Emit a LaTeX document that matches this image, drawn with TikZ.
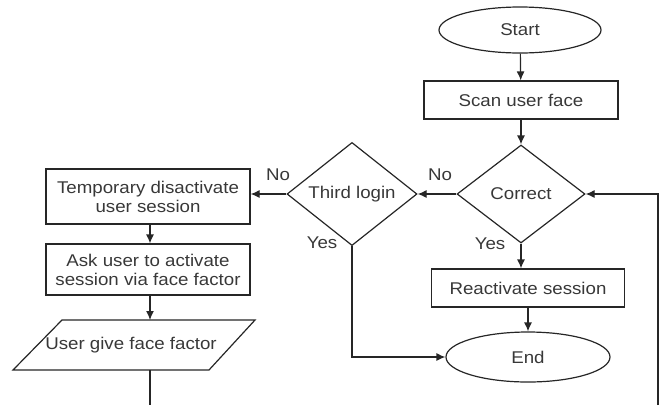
\documentclass[tikz,border=0pt]{standalone}
\usepackage{fontspec}
\setmainfont[FakeStretch=1.1]{Liberation Sans}
\usetikzlibrary{shapes.geometric,arrows.meta,calc}
\begin{document}
\begin{tikzpicture}[x=1pt,y=-1pt,
  every node/.style={font=\fontsize{17}{19}\selectfont, text=black!78},
  line/.style={draw=black!85, line width=1.2pt},
  flow/.style={line, -{Latex[length=9pt,width=8pt]}},
  procbox/.style={line, rectangle, inner sep=0pt, align=center},
  term/.style={line, ellipse, inner sep=0pt},
  decide/.style={line, diamond, inner sep=0pt},
  lbl/.style={inner sep=0pt}]
\useasboundingbox (0,0) rectangle (666,405);

% main column
\node[term, minimum width=162pt, minimum height=46pt] (start) at (520,30) {Start};
\node[procbox, minimum width=194pt, minimum height=38pt] (scan) at (521,100) {Scan user face};
\node[decide, minimum width=128pt, minimum height=98pt] (correct) at (521,194) {Correct};
\node[procbox, minimum width=193pt, minimum height=38pt] (react) at (528,288) {Reactivate session};
\node[term, minimum width=164pt, minimum height=50pt] (end) at (528,357) {End};

% retry branch
\node[decide, minimum width=130pt, minimum height=98pt] (third) at (352,194) {Third login};
\node[procbox, minimum width=204pt, minimum height=55pt] (temp) at (148,196.5)
  {Temporary disactivate\\user session};
\node[procbox, minimum width=204pt, minimum height=51pt] (ask) at (148,269.5)
  {Ask user to activate\\session via face factor};

% input parallelogram, corners given explicitly
\coordinate (pTL) at (62,320);
\coordinate (pTR) at (255,320);
\coordinate (pBR) at (209,370);
\coordinate (pBL) at (13,370);
\draw[line] (pTL) -- (pTR) -- (pBR) -- (pBL) -- cycle;
\node[lbl] (para) at (131,345) {User give face factor};

% free ends
\coordinate (paratop) at (150,320);
\coordinate (paraout) at (150,370);
\coordinate (bottomleft) at (150,405);
\coordinate (loopfoot) at (658,405);
\coordinate (loopturn) at (658,194);

% connectors
\draw[flow] (start) -- (scan);
\draw[flow] (scan) -- (correct);
\draw[flow] (correct.west) -- (third.east);
\draw[flow] (correct.south) -- (correct.south |- react.north);
\draw[flow] (react) -- (end);
\draw[flow] (third.south) |- (end.west);
\draw[flow] (third.west) -- (third.west -| temp.east);
\draw[flow] (temp.south -| paratop) -- (ask.north -| paratop);
\draw[flow] (ask.south -| paratop) -- (paratop);
\draw[line] (paraout) -- (bottomleft);
\draw[flow] (loopfoot) -- (loopturn) -- (correct.east);

% branch labels
\node[lbl] (nothird) at (278,175) {No};
\node[lbl] (yesthird) at (322,243) {Yes};
\node[lbl] (nocorrect) at (440,175) {No};
\node[lbl] (yescorrect) at (490,244) {Yes};
\end{tikzpicture}
\end{document}
